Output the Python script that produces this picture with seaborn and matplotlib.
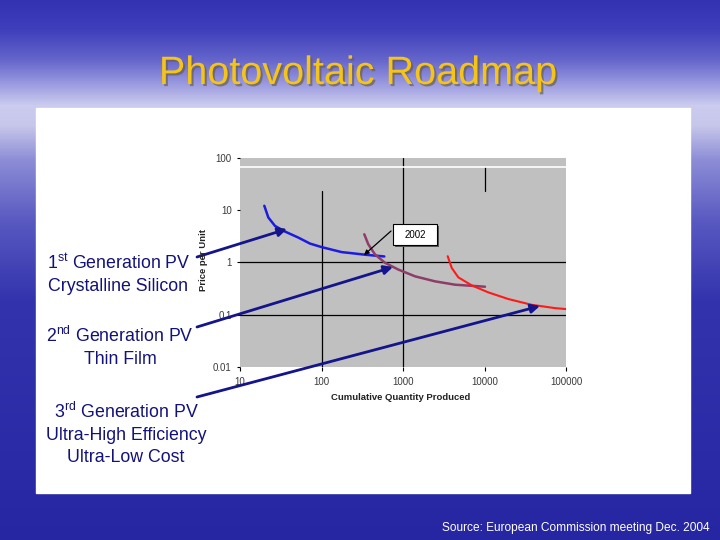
import numpy as np
import pandas as pd
import seaborn as sb
import matplotlib.pyplot as plt
import matplotlib.patheffects as pe
from matplotlib.patches import Rectangle, FancyArrowPatch

# values (price per unit vs cumulative quantity, log-log)
first_gen_qty = [19.87, 22.25, 26.89, 35.66, 51.92, 72.3, 100.6, 177.0, 223.8, 341.8, 589.6]
first_gen_price = [12.18, 7.28, 5.01, 3.91, 3.0, 2.3, 1.97, 1.58, 1.52, 1.41, 1.305]

second_gen_qty = [335, 375, 453, 601, 876, 1404, 2469, 4345, 10141]
second_gen_price = [3.47, 2.23, 1.43, 0.987, 0.733, 0.544, 0.436, 0.376, 0.344]

third_gen_qty = [3535, 3958, 4770, 6966, 11132, 19588, 37940, 73280, 102000]
third_gen_price = [1.32, 0.79, 0.52, 0.365, 0.268, 0.200, 0.155, 0.134, 0.128]

x_ticks = [10, 100, 1000, 10000, 100000]
x_tick_labels = ['10', '100', '1000', '10000', '100000']
y_ticks = [0.01, 0.1, 1, 10, 100]
y_tick_labels = ['0.01', '0.1', '1', '10', '100']

gen_labels = [
    [r'1$^{\mathrm{st}}$ Generation PV', 'Crystalline Silicon'],
    [r'2$^{\mathrm{nd}}$ Generation PV', 'Thin Film'],
    [r'3$^{\mathrm{rd}}$ Generation PV', 'Ultra-High Efficiency', 'Ultra-Low Cost'],
]

sb.set_style('white')
plt.rcParams['font.family'] = ['Liberation Sans', 'DejaVu Sans']
plt.rcParams['mathtext.fontset'] = 'custom'
plt.rcParams['mathtext.rm'] = 'Liberation Sans'

W, H = 720, 540


def fxy(px, py):
    # slide pixel (from top-left) -> figure fraction
    return px / W, 1 - py / H


fig = plt.figure(figsize=(7.2, 5.4), dpi=100)

# slide background: blue gradient + white panel
bg = fig.add_axes([0, 0, 1, 1], zorder=-1)
stops_y = [0, 30, 60, 85, 105, 125, 160, 220, 300, 540]
stops_c = np.array([
    [0.20, 0.20, 0.70], [0.25, 0.25, 0.74], [0.40, 0.40, 0.80],
    [0.62, 0.62, 0.88], [0.80, 0.80, 0.94], [0.78, 0.78, 0.92],
    [0.55, 0.55, 0.84], [0.35, 0.35, 0.76], [0.20, 0.20, 0.68],
    [0.15, 0.15, 0.64]])
rows = np.arange(H)
grad = np.stack([np.interp(rows, stops_y, stops_c[:, k]) for k in range(3)], axis=1)
grad = np.repeat(grad[:, None, :], 2, axis=1)
bg.imshow(grad, extent=[0, W, H, 0], aspect='auto')
bg.add_patch(Rectangle((36, 108), 654, 385, color='white'))
bg.set_xlim(0, W)
bg.set_ylim(H, 0)
bg.axis('off')

# chart
ax = fig.add_axes([240 / W, 1 - 367 / H, 326 / W, 209 / H])
ax.set_xscale('log')
ax.set_yscale('log')
ax.set_facecolor('#c0c0c0')
for s in ax.spines.values():
    s.set_visible(False)

ax.axhline(1, color='black', lw=0.9)
ax.axhline(0.1, color='black', lw=0.9)
ax.axvline(1000, color='black', lw=0.9)
ax.axvline(100, ymax=0.841, color='black', lw=0.9)
ax.axvline(10000, ymin=0.841, ymax=0.957, color='black', lw=0.9)
ax.plot([0, 1], [0.957, 0.957], transform=ax.transAxes, color='white', lw=1.2)

sb.lineplot(x=first_gen_qty, y=first_gen_price, ax=ax, color='#1c1ce0', lw=1.8, estimator=None, sort=False)
sb.lineplot(x=second_gen_qty, y=second_gen_price, ax=ax, color='#8e3d68', lw=1.8, estimator=None, sort=False)
sb.lineplot(x=third_gen_qty, y=third_gen_price, ax=ax, color='#ff1a1a', lw=1.5, estimator=None, sort=False)

ax.set_xlim(10, 100000)
ax.set_ylim(0.01, 100)
ax.set_xticks(x_ticks, x_tick_labels)
ax.set_yticks(y_ticks, y_tick_labels)
ax.minorticks_off()
ax.tick_params(axis='x', bottom=True, length=3, width=0.8, color='black', pad=4,
               labelsize=7, labelcolor='#3a3a3a')
ax.tick_params(axis='y', left=True, length=2, width=0.8, color='black', pad=4,
               labelsize=7, labelcolor='#3a3a3a')
ax.set_xlabel('')
ax.set_ylabel('')

fig.text(*fxy(401, 397), 'Cumulative Quantity Produced', ha='center', va='center',
         fontsize=6.8, fontweight='bold', color='#222222')
fig.text(*fxy(204, 260), 'Price per Unit', ha='center', va='center', rotation=90,
         fontsize=6.8, fontweight='bold', color='#222222')

# "2002" callout
fig.add_artist(Rectangle(fxy(395, 247), 44 / W, 21 / H, transform=fig.transFigure,
                         facecolor='#555555', edgecolor='none'))
fig.add_artist(Rectangle(fxy(393, 245), 44 / W, 21 / H, transform=fig.transFigure,
                         facecolor='white', edgecolor='black', lw=0.8))
fig.text(*fxy(415, 234.5), '2002', ha='center', va='center', fontsize=7, color='black')
fig.add_artist(FancyArrowPatch(fxy(391, 231), fxy(364, 255), transform=fig.transFigure,
                               arrowstyle='-|>', mutation_scale=7, lw=0.9, color='black',
                               shrinkA=0, shrinkB=0))

# pointer arrows from labels to curves
navy = '#14148c'
for start, end in [((197, 257), (287, 229)), ((197, 327), (393, 267)), ((197, 397), (540, 306))]:
    fig.add_artist(FancyArrowPatch(fxy(*start), fxy(*end), transform=fig.transFigure,
                                   arrowstyle='-|>', mutation_scale=13, lw=2, color=navy,
                                   shrinkA=0, shrinkB=0))

# generation labels (baselines)
label_pos = [(118.5, [269, 291]), (120, [342, 364]), (126, [418, 440, 462])]
for lines, (cx, ys) in zip(gen_labels, label_pos):
    for line, y in zip(lines, ys):
        fig.text(*fxy(cx, y), line, ha='center', va='baseline', fontsize=12.8, color='#12127a')

# title and source
fig.text(*fxy(358, 73), 'Photovoltaic Roadmap', ha='center', va='center', fontsize=28.5,
         color='#f4c41a',
         path_effects=[pe.withSimplePatchShadow(offset=(1.5, -1.5), shadow_rgbFace='#6a5e50', alpha=0.7)])
fig.text(*fxy(710, 528), 'Source: European Commission meeting Dec. 2004', ha='right', va='center',
         fontsize=8.6, color='white')

plt.savefig('out.png', dpi=100)
